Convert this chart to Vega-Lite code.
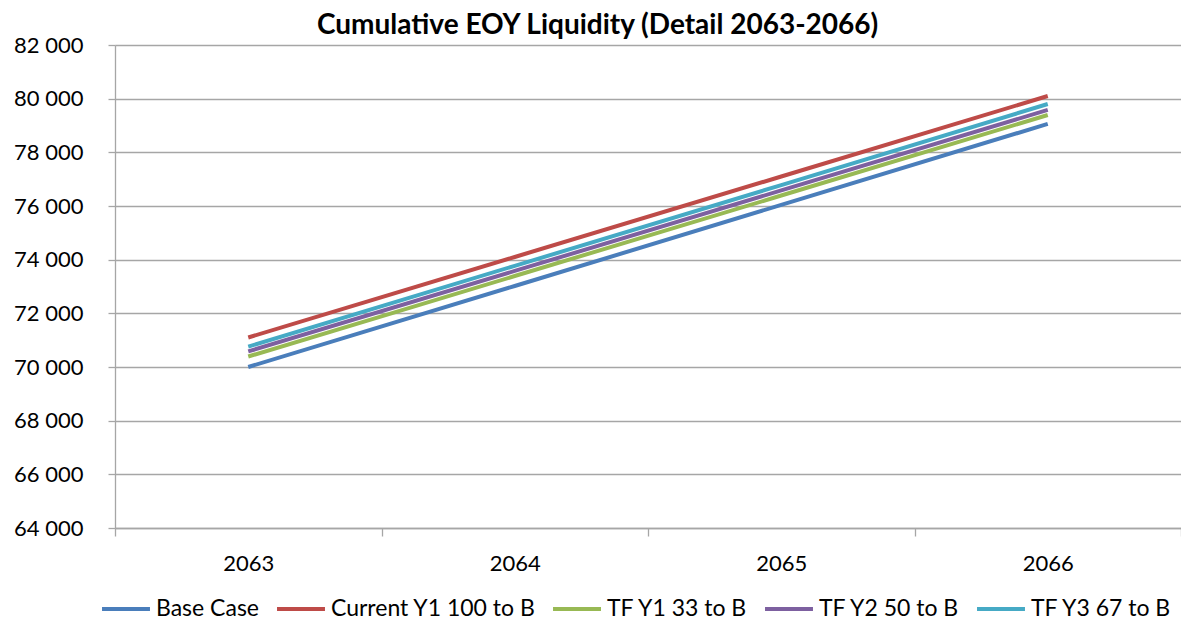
{
  "$schema": "https://vega.github.io/schema/vega-lite/v6.json",
  "width": 1066,
  "height": 483,
  "autosize": {"type": "none"},
  "padding": {"left": 115, "top": 45, "right": 0, "bottom": 98},
  "background": "white",
  "title": {
    "text": "Cumulative EOY Liquidity (Detail 2063-2066)",
    "font": "Lato",
    "fontSize": 28,
    "fontWeight": "bold",
    "color": "#000000",
    "frame": "bounds",
    "anchor": "middle",
    "offset": -6
  },
  "config": {
    "view": {"stroke": null},
    "font": "Lato"
  },
  "data": {
    "values": [
      {"year": "2063", "series": "Base Case", "value": 70000},
      {"year": "2064", "series": "Base Case", "value": 73020},
      {"year": "2065", "series": "Base Case", "value": 76040},
      {"year": "2066", "series": "Base Case", "value": 79060},
      {"year": "2063", "series": "Current Y1 100 to B", "value": 71100},
      {"year": "2064", "series": "Current Y1 100 to B", "value": 74100},
      {"year": "2065", "series": "Current Y1 100 to B", "value": 77100},
      {"year": "2066", "series": "Current Y1 100 to B", "value": 80100},
      {"year": "2063", "series": "TF Y1 33 to B", "value": 70390},
      {"year": "2064", "series": "TF Y1 33 to B", "value": 73390},
      {"year": "2065", "series": "TF Y1 33 to B", "value": 76390},
      {"year": "2066", "series": "TF Y1 33 to B", "value": 79390},
      {"year": "2063", "series": "TF Y2 50 to B", "value": 70580},
      {"year": "2064", "series": "TF Y2 50 to B", "value": 73580},
      {"year": "2065", "series": "TF Y2 50 to B", "value": 76580},
      {"year": "2066", "series": "TF Y2 50 to B", "value": 79580},
      {"year": "2063", "series": "TF Y3 67 to B", "value": 70760},
      {"year": "2064", "series": "TF Y3 67 to B", "value": 73770},
      {"year": "2065", "series": "TF Y3 67 to B", "value": 76780},
      {"year": "2066", "series": "TF Y3 67 to B", "value": 79800}
    ]
  },
  "mark": {"type": "line", "strokeWidth": 4},
  "encoding": {
    "x": {
      "field": "year",
      "type": "ordinal",
      "scale": {"type": "band", "paddingInner": 0, "paddingOuter": 0},
      "axis": {
        "title": null,
        "labelAngle": 0,
        "labelFontSize": 22,
        "labelColor": "#000000",
        "labelPadding": 17,
        "domainColor": "#a6a6a6",
        "domainWidth": 1.3,
        "tickColor": "#a6a6a6",
        "tickWidth": 1.3,
        "tickSize": 8,
        "tickBand": "extent",
        "grid": false
      }
    },
    "y": {
      "field": "value",
      "type": "quantitative",
      "scale": {"domain": [64000, 82000], "nice": false, "zero": false},
      "axis": {
        "title": null,
        "values": [64000, 66000, 68000, 70000, 72000, 74000, 76000, 78000, 80000, 82000],
        "labelExpr": "replace(format(datum.value, ','), ',', ' ')",
        "labelFontSize": 22,
        "labelColor": "#000000",
        "labelPadding": 25,
        "domainColor": "#a6a6a6",
        "domainWidth": 1.3,
        "tickColor": "#a6a6a6",
        "tickWidth": 1.3,
        "tickSize": 7,
        "grid": true,
        "gridColor": "#a6a6a6",
        "gridWidth": 1.3
      }
    },
    "color": {
      "field": "series",
      "type": "nominal",
      "scale": {
        "domain": ["Base Case", "Current Y1 100 to B", "TF Y1 33 to B", "TF Y2 50 to B", "TF Y3 67 to B"],
        "range": ["#4a7ebb", "#be4b48", "#98b954", "#7d60a0", "#46aac5"]
      },
      "legend": {
        "title": null,
        "orient": "none",
        "direction": "horizontal",
        "columns": 5,
        "legendX": -15,
        "legendY": 538,
        "labelFontSize": 23,
        "labelLimit": 0,
        "labelColor": "#000000",
        "symbolType": "stroke",
        "symbolStrokeWidth": 4,
        "symbolSize": 2300,
        "labelOffset": 4,
        "columnPadding": 9
      }
    }
  }
}
